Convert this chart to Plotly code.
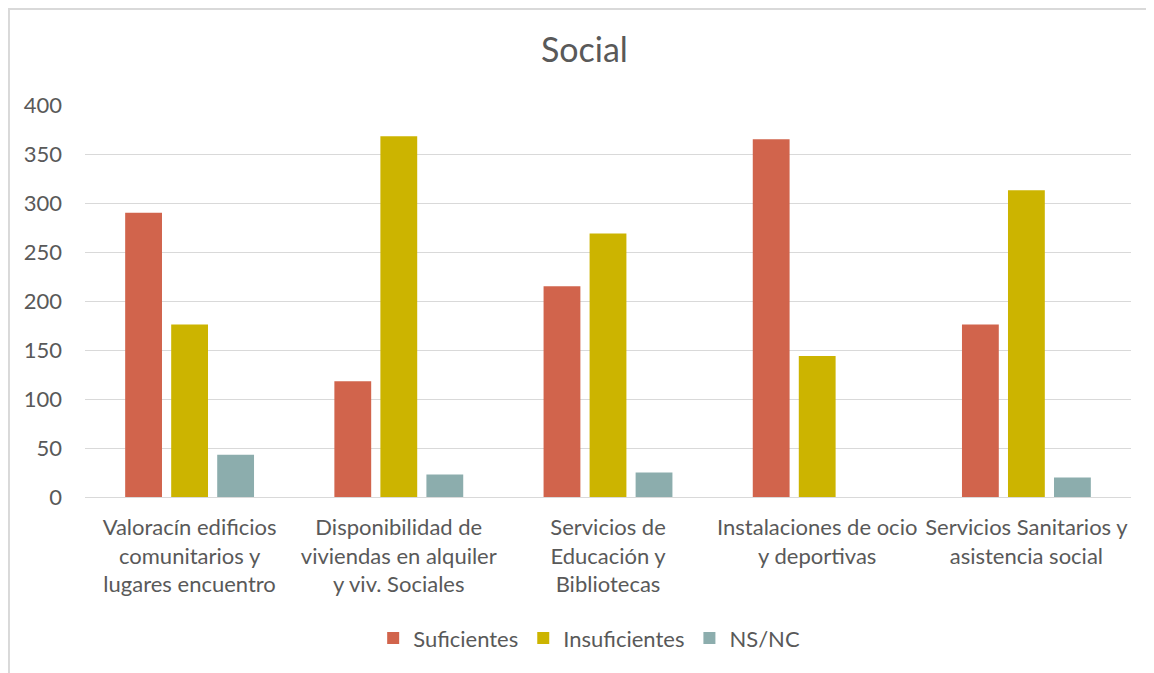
import plotly.graph_objects as go

categories = [
    "Valoracín edificios<br>comunitarios y<br>lugares encuentro",
    "Disponibilidad de<br>viviendas en alquiler<br>y viv. Sociales",
    "Servicios de<br>Educación y<br>Bibliotecas",
    "Instalaciones de ocio<br>y deportivas",
    "Servicios Sanitarios y<br>asistencia social",
]
suficientes = [290, 118, 215, 365, 176]
insuficientes = [176, 368, 269, 144, 313]
ns_nc = [43, 23, 25, 0, 20]

series = [
    ("Suficientes", suficientes, "#D1644C"),
    ("Insuficientes", insuficientes, "#CCB400"),
    ("NS/NC", ns_nc, "#8CADAD"),
]

FONT = "Lato"
TEXT = "#595959"

fig = go.Figure()
for name, vals, color in series:
    fig.add_trace(go.Bar(
        x=categories,
        y=vals,
        name=name,
        marker=dict(color=color, line=dict(width=0)),
    ))

# page body adds an 8px offset, so the figure is 8px smaller than the window
fig.update_layout(
    width=1146,
    height=665,
    margin=dict(l=77, r=23, t=97, b=176),
    paper_bgcolor="white",
    plot_bgcolor="white",
    font=dict(family=FONT, color=TEXT, size=22),
    title=dict(text="Social", x=0.503, xanchor="center", y=0.937, yanchor="middle",
               font=dict(family=FONT, size=34, color=TEXT)),
    barmode="group",
    bargap=0.34,
    bargroupgap=0.2,
    showlegend=True,
    legend=dict(orientation="h", x=0.482, xanchor="center", y=-0.36, yanchor="middle",
                font=dict(size=22, color=TEXT), traceorder="normal"),
    shapes=[dict(type="rect", xref="paper", yref="paper",
                 x0=-0.0727, x1=1.1, y0=-0.6, y1=1.2449,
                 line=dict(color="#D9D9D9", width=2), layer="below")],
)
fig.update_xaxes(showline=False, showgrid=False, tickangle=0,
                 tickfont=dict(size=22, color=TEXT), ticks="",
                 ticklabelstandoff=15)
fig.update_yaxes(range=[0, 400], dtick=50, showgrid=True, gridcolor="#D9D9D9",
                 gridwidth=1, zeroline=True, zerolinecolor="#D9D9D9", zerolinewidth=1,
                 showline=False, tickfont=dict(size=22, color=TEXT),
                 ticklabelstandoff=22)

fig.write_html("out.html")
